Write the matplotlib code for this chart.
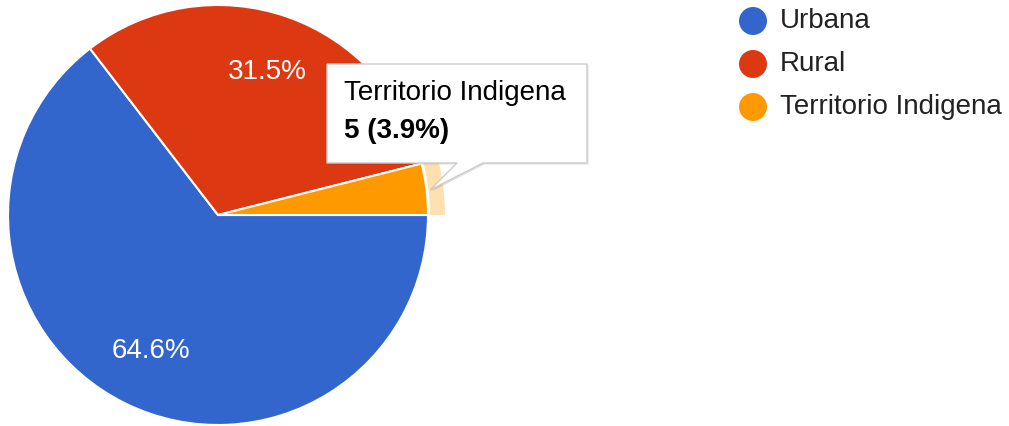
import matplotlib
matplotlib.use("Agg")
import matplotlib.pyplot as plt
from matplotlib.patches import Wedge, Polygon, Circle

categories = ["Urbana", "Rural", "Territorio Indigena"]
values = [82, 40, 5]
colors = ["#3366CC", "#DC3912", "#FF9900"]
tooltip_title = "Territorio Indigena"
tooltip_value = "5 (3.9%)"

W, H = 1009, 426
fig = plt.figure(figsize=(W / 100, H / 100), dpi=100)
ax = fig.add_axes([0, 0, 1, 1])
ax.set_xlim(0, W)
ax.set_ylim(0, H)
ax.set_aspect("equal")
ax.axis("off")

def Y(y):
    return H - y

cx, cy, R = 218, Y(215), 210
font = "Liberation Sans"
FS = 20

total = sum(values)

def fmt(p):
    return f"{p:.1f}%" if p > 5 else ""

wedges, texts, autotexts = ax.pie(
    values, colors=colors, startangle=0, counterclock=False,
    center=(cx, cy), radius=R, autopct=fmt, pctdistance=0.72,
    wedgeprops=dict(edgecolor="white", linewidth=1.5),
    textprops=dict(color="white", fontsize=FS, family=font),
)
ax.set_xlim(0, W)
ax.set_ylim(0, H)

# highlight ring for hovered slice
ang = 360 * values[2] / total
ax.add_patch(Wedge((cx, cy), R + 17, 0, ang, width=15, facecolor="#FFE0B0",
                   edgecolor="none", zorder=3))

# tooltip
pts = [(327, 64), (587, 64), (587, 163), (483, 163), (430, 190), (457, 163), (327, 163)]
shadow = Polygon([(x + 1.5, Y(y + 1.5)) for x, y in pts], closed=True,
                 facecolor="#000000", alpha=0.12, edgecolor="none", zorder=4)
ax.add_patch(shadow)
tip = Polygon([(x, Y(y)) for x, y in pts], closed=True, facecolor="white",
              edgecolor="#CCCCCC", linewidth=1, zorder=5)
ax.add_patch(tip)
ax.text(344, Y(93), tooltip_title, fontsize=FS, family=font, color="#000000",
        va="center", ha="left", zorder=6)
ax.text(344, Y(131), tooltip_value, fontsize=FS, family=font, color="#000000",
        fontweight="bold", va="center", ha="left", zorder=6)

# legend
for i, (lab, col) in enumerate(zip(categories, colors)):
    yy = Y(21 + i * 43)
    ax.add_patch(Circle((753, yy), 14, facecolor=col, edgecolor="none"))
    ax.text(780, yy, lab, fontsize=FS, family=font, color="#222222",
            va="center", ha="left")

fig.savefig("out.png", dpi=100)
